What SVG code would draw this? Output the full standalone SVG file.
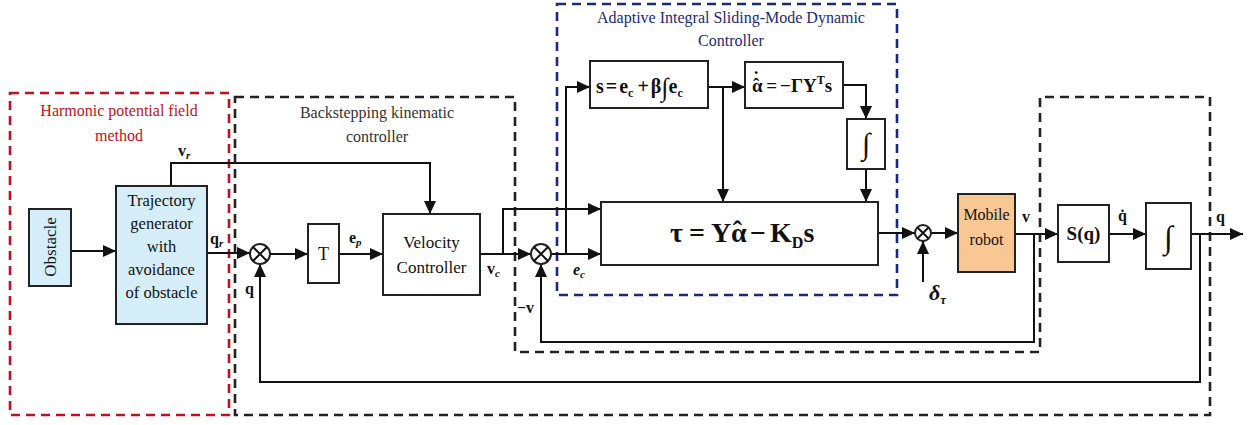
<svg xmlns="http://www.w3.org/2000/svg" width="1249" height="425" viewBox="0 0 1249 425">
<style>
.box{fill:#fff;stroke:#222;stroke-width:2}
.blue{fill:#d6eef9}
.orange{fill:#f9c794}
.ln{fill:none;stroke:#111;stroke-width:2}
.arr{marker-end:url(#ah)}
.t{font-family:'Times New Roman','Liberation Serif',Tinos,'DejaVu Serif',serif;fill:#111}
.b{font-weight:bold}
.i{font-style:italic}
.dash{fill:none;stroke-width:2.6;stroke-dasharray:9 6}
</style>
<defs>
<marker id="ah" markerUnits="userSpaceOnUse" markerWidth="14" markerHeight="12" refX="13" refY="6" orient="auto">
<path d="M0,0 L13,6 L0,12 z" fill="#111"/>
</marker>
</defs>

<g id="frames">
<rect x="10" y="93" width="219" height="322" class="dash" stroke="#c0121e"/>
<path d="M235,97 H515 V352 H1040 V97 H1210 V415 H235 Z" class="dash" stroke="#222"/>
<rect x="557" y="4" width="340" height="291" class="dash" stroke="#1b2a78"/>
<text class="t" x="119" y="116" font-size="16" text-anchor="middle" style="fill:#c0121e">Harmonic potential field</text>
<text class="t" x="119" y="141" font-size="16" text-anchor="middle" style="fill:#c0121e">method</text>
<text class="t" x="377" y="118" font-size="16" text-anchor="middle" style="fill:#333">Backstepping kinematic</text>
<text class="t" x="377" y="142" font-size="16" text-anchor="middle" style="fill:#333">controller</text>
<text class="t" x="731" y="23" font-size="16" text-anchor="middle" style="fill:#1b2a78">Adaptive Integral Sliding-Mode Dynamic</text>
<text class="t" x="731" y="46" font-size="16" text-anchor="middle" style="fill:#1b2a78">Controller</text>
</g>

<g id="connectors">
<path class="ln arr" d="M71,251 H116"/>
<path class="ln arr" d="M207,253 H250"/>
<path class="ln arr" d="M171,186 V163 H430 V214"/>
<path class="ln arr" d="M270,254 H308"/>
<path class="ln arr" d="M339,254 H383"/>
<path class="ln arr" d="M480,254 H531"/>
<path class="ln arr" d="M503,254 V209 H601"/>
<path class="ln arr" d="M551,254 H601"/>
<path class="ln arr" d="M566,254 V87 H590"/>
<path class="ln arr" d="M708,87 H745"/>
<path class="ln arr" d="M723,87 V202"/>
<path class="ln arr" d="M843,85 H866 V119"/>
<path class="ln arr" d="M866,169 V202"/>
<path class="ln arr" d="M878,233 H915"/>
<path class="ln arr" d="M923,282 V241"/>
<path class="ln arr" d="M931,233 H958"/>
<path class="ln arr" d="M1015,234 H1058"/>
<path class="ln arr" d="M1109,234 H1146"/>
<path class="ln arr" d="M1191,234 H1243"/>
<path class="ln arr" d="M1034,234 V342 H541 V264"/>
<path class="ln arr" d="M1200,234 V382 H260 V264"/>
</g>

<g id="obstacle">
<rect x="29" y="209" width="42" height="77" class="box blue"/>
<text class="t" font-size="17" text-anchor="middle" transform="translate(56,247) rotate(-90)">Obstacle</text>
</g>

<g id="trajectory">
<rect x="116" y="186" width="91" height="138" class="box blue"/>
<text class="t" font-size="16.5" text-anchor="middle" x="161.5" y="206">Trajectory</text>
<text class="t" font-size="16.5" text-anchor="middle" x="161.5" y="229">generator</text>
<text class="t" font-size="16.5" text-anchor="middle" x="161.5" y="252">with</text>
<text class="t" font-size="16.5" text-anchor="middle" x="161.5" y="275">avoidance</text>
<text class="t" font-size="16.5" text-anchor="middle" x="161.5" y="298">of obstacle</text>
</g>

<g id="sum1">
<circle cx="260" cy="254" r="10" class="box"/>
<path class="ln" d="M253,247 L267,261 M267,247 L253,261" stroke-width="1.6"/>
</g>

<g id="T">
<rect x="308" y="224" width="31" height="59" class="box"/>
<text class="t" font-size="18" text-anchor="middle" x="323.5" y="260">T</text>
</g>

<g id="velocity">
<rect x="383" y="214" width="97" height="81" class="box"/>
<text class="t" font-size="17" text-anchor="middle" x="431.5" y="248">Velocity</text>
<text class="t" font-size="17" text-anchor="middle" x="431.5" y="273">Controller</text>
</g>

<g id="sum2">
<circle cx="541" cy="254" r="10" class="box"/>
<path class="ln" d="M534,247 L548,261 M548,247 L534,261" stroke-width="1.6"/>
</g>

<g id="sbox">
<rect x="590" y="61" width="118" height="47" class="box"/>
<text class="t b" font-size="20" x="596" y="93">s<tspan dx="2">=</tspan><tspan dx="2">e</tspan><tspan font-size="12" dy="4">c</tspan><tspan dy="-4" dx="4">+</tspan><tspan dx="2">β</tspan><tspan font-size="26" dy="3" font-weight="normal">∫</tspan><tspan dy="-3">e</tspan><tspan font-size="12" dy="4">c</tspan></text>
</g>

<g id="alphabox">
<rect x="745" y="62" width="98" height="46" class="box"/>
<text class="t b" font-size="19" x="752" y="92">α<tspan dx="-9.5" dy="-1">ˆ</tspan><tspan dx="-6.5" dy="-7">˙</tspan><tspan dx="7" dy="8">=</tspan><tspan dx="3">−ΓY</tspan><tspan font-size="12" dy="-8">T</tspan><tspan dy="8">s</tspan></text>
</g>

<g id="integ1">
<rect x="847" y="119" width="38" height="50" class="box"/>
<text class="t" font-size="30" text-anchor="middle" x="866" y="154">∫</text>
</g>

<g id="tau">
<rect x="601" y="202" width="277" height="63" class="box"/>
<text class="t b" font-size="28" x="670" y="242">τ<tspan dx="6">=</tspan><tspan dx="6">Y</tspan><tspan>α</tspan><tspan dx="-14" dy="-2">ˆ</tspan><tspan dx="8" dy="2">−</tspan><tspan dx="4">K</tspan><tspan font-size="16" dy="6">D</tspan><tspan dy="-6">s</tspan></text>
</g>

<g id="sum3">
<circle cx="923" cy="233" r="8" class="box"/>
<path class="ln" d="M917.5,227.5 L928.5,238.5 M928.5,227.5 L917.5,238.5" stroke-width="1.5"/>
</g>

<g id="robot">
<rect x="958" y="194" width="57" height="78" class="box orange"/>
<text class="t" font-size="16" text-anchor="middle" x="986.5" y="220">Mobile</text>
<text class="t" font-size="16" text-anchor="middle" x="986.5" y="245">robot</text>
</g>

<g id="Sq">
<rect x="1058" y="205" width="51" height="57" class="box"/>
<text class="t b" font-size="19" text-anchor="middle" x="1083.5" y="240">S(q)</text>
</g>

<g id="integ2">
<rect x="1146" y="203" width="45" height="66" class="box"/>
<text class="t" font-size="32" text-anchor="middle" x="1168.5" y="248">∫</text>
</g>

<g id="labels">
<text class="t b" font-size="16" x="178" y="156">v<tspan class="i" font-size="11" dy="3">r</tspan></text>
<text class="t b" font-size="16" x="210" y="244">q<tspan class="i" font-size="11" dy="3">r</tspan></text>
<text class="t b" font-size="16" x="245" y="294">q</text>
<text class="t b" font-size="16" x="349" y="243">e<tspan class="i" font-size="11" dy="3">p</tspan></text>
<text class="t b" font-size="16" x="487" y="274">v<tspan class="i" font-size="11" dy="3">c</tspan></text>
<text class="t b i" font-size="16" x="573" y="275">e<tspan font-size="11" dy="3">c</tspan></text>
<text class="t b" font-size="16" x="517" y="313">−v</text>
<text class="t b" font-size="16" x="1022" y="222">v</text>
<text class="t b" font-size="16" x="1118" y="221">q̇</text>
<text class="t b" font-size="16" x="1216" y="222">q</text>
<text class="t b i" font-size="22" x="929" y="300">δ<tspan font-size="13" dy="4">τ</tspan></text>
</g>
</svg>
